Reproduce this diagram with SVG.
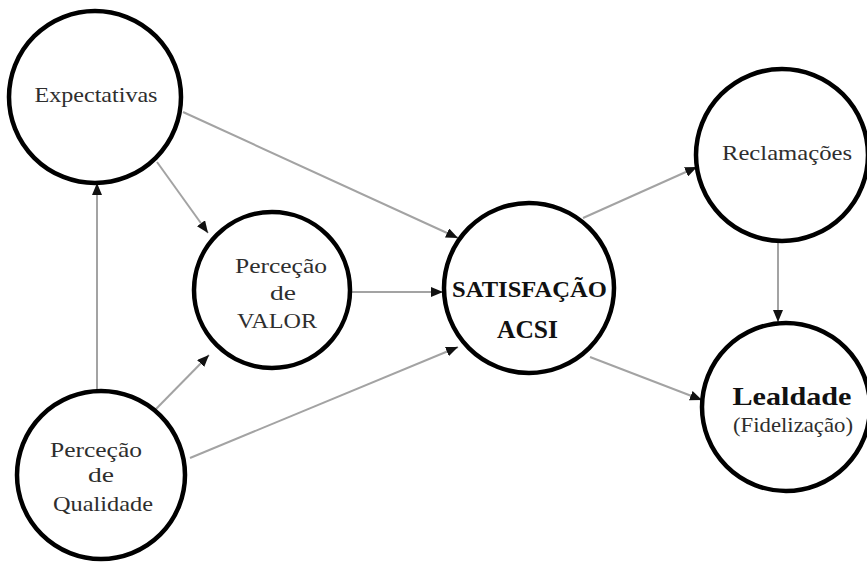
<svg xmlns="http://www.w3.org/2000/svg" width="867" height="566" viewBox="0 0 867 566">
  <defs>
    <marker id="arrow" viewBox="0 0 12 10" refX="12" refY="5" markerWidth="12" markerHeight="10" markerUnits="userSpaceOnUse" orient="auto">
      <path d="M0,0 L12,5 L0,10 Z" fill="#111"/>
    </marker>
    <style>
      .node { fill: #fff; stroke: #000; stroke-width: 4.5; }
      .edge { stroke: #a3a3a3; stroke-width: 2; fill: none; marker-end: url(#arrow); }
      text { font-family: 'Liberation Serif', 'DejaVu Serif', serif; text-anchor: middle; }
      .lbl { font-size: 22px; fill: #2e2e2e; }
      .bold { font-weight: bold; fill: #111; }
    </style>
  </defs>
  <rect width="867" height="566" fill="#fff"/>

  <g id="connectors">
    <line class="edge" x1="157" y1="162" x2="208" y2="233"/>
    <line class="edge" x1="183" y1="112" x2="458" y2="238"/>
    <line class="edge" x1="97" y1="393" x2="97" y2="183"/>
    <line class="edge" x1="155" y1="410" x2="209" y2="355"/>
    <line class="edge" x1="190" y1="458" x2="458" y2="347"/>
    <line class="edge" x1="350" y1="292" x2="443" y2="292"/>
    <line class="edge" x1="583" y1="218" x2="697" y2="167"/>
    <line class="edge" x1="590" y1="357" x2="702" y2="400"/>
    <line class="edge" x1="778" y1="243" x2="778" y2="322"/>
  </g>

  <g id="expectativas">
    <circle class="node" cx="95" cy="97" r="86"/>
    <text class="lbl" x="96" y="102" textLength="123" lengthAdjust="spacingAndGlyphs">Expectativas</text>
  </g>

  <g id="percecao-valor">
    <circle class="node" cx="272" cy="290" r="78"/>
    <text class="lbl" x="281" y="273" textLength="92" lengthAdjust="spacingAndGlyphs">Perceção</text>
    <text class="lbl" x="283" y="300" textLength="26" lengthAdjust="spacingAndGlyphs">de</text>
    <text class="lbl" x="277" y="328" textLength="80" lengthAdjust="spacingAndGlyphs">VALOR</text>
  </g>

  <g id="satisfacao">
    <circle class="node" cx="529" cy="288" r="85"/>
    <text class="bold" x="529.5" y="297" font-size="23" textLength="155" lengthAdjust="spacingAndGlyphs">SATISFAÇÃO</text>
    <text class="bold" x="527.5" y="338" font-size="25" textLength="61" lengthAdjust="spacingAndGlyphs">ACSI</text>
  </g>

  <g id="reclamacoes">
    <circle class="node" cx="782" cy="155" r="86"/>
    <text class="lbl" x="787" y="160" textLength="130" lengthAdjust="spacingAndGlyphs">Reclamações</text>
  </g>

  <g id="lealdade">
    <circle class="node" cx="786" cy="407" r="84"/>
    <text class="bold" x="792" y="405" font-size="26" textLength="119" lengthAdjust="spacingAndGlyphs">Lealdade</text>
    <text class="lbl" x="793" y="432" font-size="19" textLength="120" lengthAdjust="spacingAndGlyphs">(Fidelização)</text>
  </g>

  <g id="percecao-qualidade">
    <circle class="node" cx="101" cy="475" r="84"/>
    <text class="lbl" x="96" y="457" textLength="92" lengthAdjust="spacingAndGlyphs">Perceção</text>
    <text class="lbl" x="101" y="482" textLength="26" lengthAdjust="spacingAndGlyphs">de</text>
    <text class="lbl" x="103" y="511" textLength="100" lengthAdjust="spacingAndGlyphs">Qualidade</text>
  </g>
</svg>
